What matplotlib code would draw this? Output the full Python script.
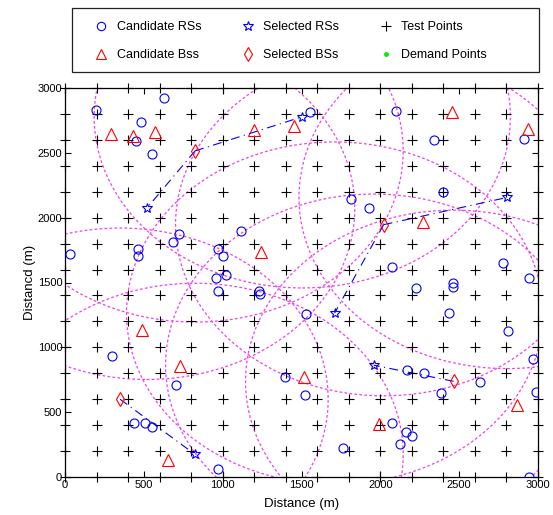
import matplotlib
matplotlib.use('Agg')
import matplotlib.pyplot as plt
from matplotlib.patches import Circle, Rectangle
from matplotlib.lines import Line2D
import numpy as np

plt.rcParams['font.family'] = ['Liberation Sans', 'DejaVu Sans']

# ---------------- data ----------------
cand_rs_x = [195, 630, 483, 449, 554, 724, 688, 461, 461, 32, 1115, 973, 1005,
             1556, 2099, 2339, 2914, 2395, 1816, 1930, 2074, 2777,
             959, 1022, 969, 1232, 1234, 1530, 301, 703, 1397, 1524, 438, 508, 550, 969,
             2944, 2229, 2461, 2461, 2434, 2808, 2967, 2169, 2275, 2629, 2986, 2387,
             2074, 2163, 2201, 2127, 1761, 2944]
cand_rs_y = [2828, 2921, 2738, 2592, 2490, 1877, 1810, 1759, 1708, 1720, 1895, 1759, 1708,
             2815, 2823, 2600, 2605, 2200, 2141, 2072, 1618, 1654,
             1536, 1554, 1433, 1438, 1413, 1255, 931, 713, 772, 631, 413, 420, 387, 62,
             1536, 1456, 1495, 1464, 1264, 1123, 913, 828, 802, 733, 656, 644,
             420, 344, 318, 254, 226, 3]

cand_bs_x = [292, 434, 571, 1196, 1450, 1242, 2455, 2937, 2269, 487, 730, 652, 1513, 2868, 1994]
cand_bs_y = [2649, 2631, 2664, 2674, 2708, 1733, 2818, 2682, 1969, 1131, 854, 131, 772, 559, 408]

sel_rs_x = [1505, 518, 2804, 1710, 1958, 825]
sel_rs_y = [2778, 2072, 2156, 1264, 862, 174]

sel_bs_x = [825, 2021, 2465, 349]
sel_bs_y = [2515, 1946, 738, 600]

# which selected RS is served by which selected BS (index into sel_bs)
rs_parent = [0, 0, 1, 1, 2, 3]

coverage_radius = 1320

test_coords = [0, 200, 400, 600, 800, 1000, 1200, 1400, 1600, 1800,
               2000, 2200, 2400, 2600, 2800, 3000]

demand_x = []
demand_y = []

axis_ticks = [0, 500, 1000, 1500, 2000, 2500, 3000]

# ---------------- figure ----------------
W, H = 553, 515
fig = plt.figure(figsize=(W / 100, H / 100), dpi=100)
ax = fig.add_axes([65 / W, 1 - 477 / H, (538 - 65) / W, (477 - 88) / H])

# coverage circles
for cx, cy in list(zip(sel_bs_x, sel_bs_y)) + list(zip(sel_rs_x, sel_rs_y)):
    c = Circle((cx, cy), coverage_radius, fill=False, edgecolor='#f040f0',
               linewidth=0.9, linestyle=(0, (2.2, 1.8)), zorder=2)
    ax.add_patch(c)

# links BS -> RS
for i, p in enumerate(rs_parent):
    ax.plot([sel_bs_x[p], sel_rs_x[i]], [sel_bs_y[p], sel_rs_y[i]],
            color='blue', linewidth=0.8, dashes=(8, 4, 1, 4), zorder=3)

# test points
tx, ty = np.meshgrid(test_coords, test_coords)
ax.plot(tx.ravel(), ty.ravel(), '+', color='black', markersize=7.5,
        markeredgewidth=0.8, linestyle='none', clip_on=False, zorder=4)

ax.plot(cand_rs_x, cand_rs_y, 'o', markerfacecolor='none', markeredgecolor='blue',
        markersize=6.5, markeredgewidth=0.8, linestyle='none', zorder=5)
ax.plot(cand_bs_x, cand_bs_y, '^', markerfacecolor='none', markeredgecolor='red',
        markersize=8, markeredgewidth=0.8, linestyle='none', zorder=5)
ax.plot(sel_rs_x, sel_rs_y, '*', markerfacecolor='none', markeredgecolor='blue',
        markersize=7, markeredgewidth=0.8, linestyle='none', zorder=6)
ax.plot(sel_bs_x, sel_bs_y, 'd', markerfacecolor='none', markeredgecolor='red',
        markersize=7.5, markeredgewidth=0.8, linestyle='none', zorder=6)
ax.plot(demand_x, demand_y, '.', color='#00ee00', linestyle='none', zorder=6)

ax.set_xlim(0, 3000)
ax.set_ylim(0, 3000)
ax.set_xticks(axis_ticks)
ax.set_yticks(axis_ticks)
ax.tick_params(direction='in', top=True, right=True, length=4, width=0.8,
               labelsize=8, pad=2)
for s in ax.spines.values():
    s.set_linewidth(0.9)
ax.set_xlabel('Distance (m)', fontsize=9.5, labelpad=6)
ax.set_ylabel('Distancd (m)', fontsize=9.5, labelpad=1)

# legend box
fig.patches.append(Rectangle((72 / W, 1 - 72 / H), 467 / W, 64 / H,
                             transform=fig.transFigure, fill=False,
                             edgecolor='#222222', linewidth=0.9))

handles = [
    Line2D([], [], marker='o', linestyle='none', markerfacecolor='none',
           markeredgecolor='blue', markersize=6, markeredgewidth=0.8),
    Line2D([], [], marker='^', linestyle='none', markerfacecolor='none',
           markeredgecolor='red', markersize=7.5, markeredgewidth=0.8),
    Line2D([], [], marker='*', linestyle='none', markerfacecolor='none',
           markeredgecolor='blue', markersize=7, markeredgewidth=0.8),
    Line2D([], [], marker='d', linestyle='none', markerfacecolor='none',
           markeredgecolor='red', markersize=7.5, markeredgewidth=0.8),
    Line2D([], [], marker='+', linestyle='none', color='black',
           markersize=7.5, markeredgewidth=0.8),
    Line2D([], [], marker='.', linestyle='none', color='#00ee00', markersize=5),
]
labels = ['Candidate RSs', 'Candidate Bss', 'Selected RSs', 'Selected BSs',
          'Test Points', 'Demand Points']
leg = fig.legend(handles, labels, loc='upper left', ncol=3,
                 bbox_to_anchor=(80 / W, 1 - 10 / H),
                 fontsize=9, frameon=False,
                 borderpad=0.9, labelspacing=1.25, columnspacing=2.9,
                 handlelength=1.6, handletextpad=0.45, borderaxespad=0)

fig.savefig('out.png', dpi=100)
